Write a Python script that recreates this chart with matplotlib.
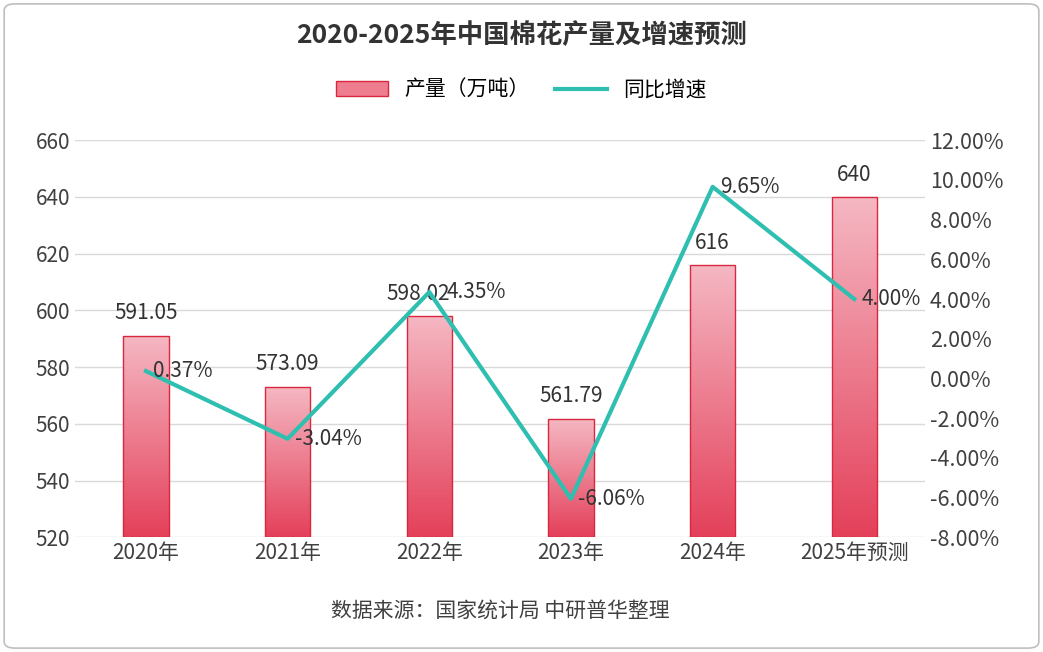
import numpy as np
import matplotlib.pyplot as plt
from matplotlib.patches import FancyBboxPatch, Rectangle
from matplotlib.colors import LinearSegmentedColormap
from matplotlib.lines import Line2D
from matplotlib.ticker import FuncFormatter

plt.rcParams['font.family'] = 'Noto Sans CJK SC'

years = ['2020年', '2021年', '2022年', '2023年', '2024年', '2025年预测']
output = [591.05, 573.09, 598.02, 561.79, 616, 640]
output_labels = ['591.05', '573.09', '598.02', '561.79', '616', '640']
growth = [0.37, -3.04, 4.35, -6.06, 9.65, 4.00]
growth_labels = ['0.37%', '-3.04%', '4.35%', '-6.06%', '9.65%', '4.00%']

fig = plt.figure(figsize=(10.43, 6.52), dpi=100)
fig.patches.append(FancyBboxPatch((0.004, 0.006), 0.992, 0.988, boxstyle='round,pad=0,rounding_size=0.01',
                                  transform=fig.transFigure, fill=False, ec='#bfbfbf', lw=1.2))
ax = fig.add_axes([0.072, 0.176, 0.815, 0.609])
ax2 = ax.twinx()

x = np.arange(len(years))
w = 0.32
cmap = LinearSegmentedColormap.from_list('g', ['#e4405a', '#f5b8c3'])
grad = np.linspace(0, 1, 256).reshape(-1, 1)
for i, v in enumerate(output):
    im = ax.imshow(grad, cmap=cmap, aspect='auto', origin='lower',
                   extent=[x[i] - w / 2, x[i] + w / 2, 520, v], zorder=2)
    r = Rectangle((x[i] - w / 2, 520), w, v - 520, fill=False, ec='#d9283e', lw=1, zorder=3)
    ax.add_patch(r)
    im.set_clip_path(r)
    dx = -0.08 if i == 2 else 0
    ax.text(x[i] + dx, v + 4, output_labels[i], ha='center', va='bottom', fontsize=15, color='#333333', zorder=5)

ax.set_xlim(-0.5, 5.5)
ax.set_ylim(520, 660)
ax.set_yticks(range(520, 661, 20))
ax.set_xticks(x)
ax.set_xticklabels(years)
ax.grid(axis='y', color='#d9d9d9', lw=1)
ax.set_axisbelow(True)
for s in ax.spines.values():
    s.set_visible(False)
for s in ax2.spines.values():
    s.set_visible(False)
ax.tick_params(length=0, labelsize=15, labelcolor='#404040')

ax2.plot(x, growth, color='#2ebfb0', lw=3, zorder=4)
ax2.set_ylim(-8, 12)
ax2.set_yticks(range(-8, 13, 2))
ax2.yaxis.set_major_formatter(FuncFormatter(lambda v, p: f'{v:.2f}%'))
ax2.tick_params(length=0, labelsize=15.5, labelcolor='#404040')
for i, g in enumerate(growth):
    dx = 0.12 if i == 2 else 0.05
    ax2.text(x[i] + dx, g, growth_labels[i], ha='left', va='center', fontsize=15, color='#333333', zorder=5)

fig.text(0.5, 0.945, '2020-2025年中国棉花产量及增速预测', ha='center', va='center', fontsize=19,
         color='#333333', fontweight='bold')
handles = [Rectangle((0, 0), 1, 1, fc='#ee7d90', ec='#d9283e'),
           Line2D([0], [0], color='#2ebfb0', lw=3)]
fig.legend(handles, ['产量（万吨）', '同比增速'], loc='center', bbox_to_anchor=(0.5, 0.862), ncol=2,
           frameon=False, fontsize=15, handlelength=2.5, columnspacing=1.2)
fig.text(0.48, 0.064, '数据来源：国家统计局 中研普华整理', ha='center', va='center', fontsize=15, color='#404040')

fig.savefig('out.png', dpi=100)
